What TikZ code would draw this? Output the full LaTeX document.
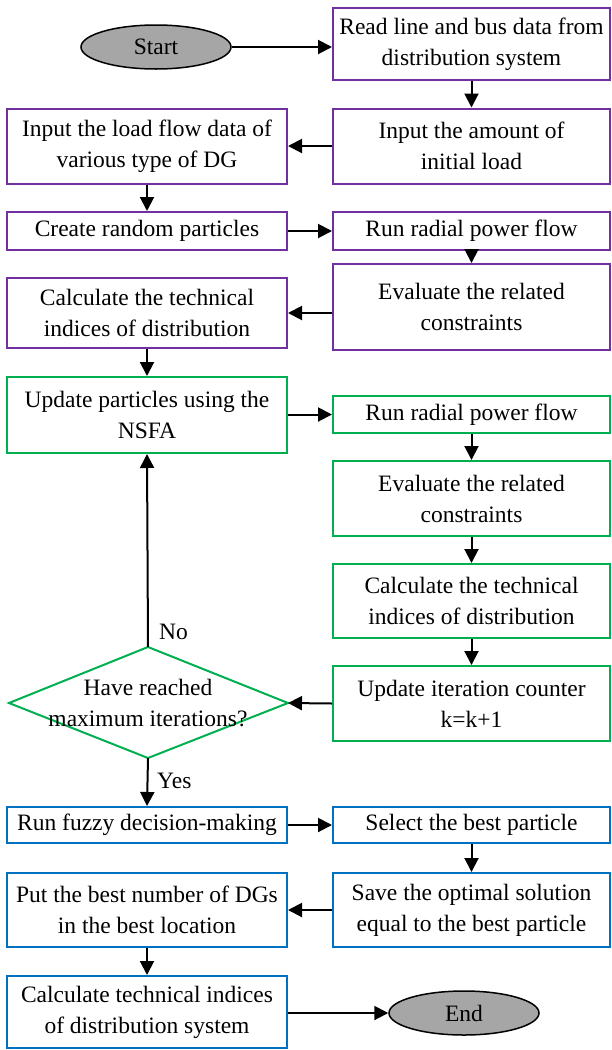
\documentclass[tikz,border=0pt]{standalone}
\usepackage{fontspec}
\setmainfont{Liberation Serif}
\usetikzlibrary{arrows.meta,shapes.geometric}
\definecolor{cpurple}{RGB}{112,48,160}
\definecolor{cgreen}{RGB}{0,176,80}
\definecolor{cblue}{RGB}{0,112,192}
\definecolor{cgray}{RGB}{166,166,166}
\tikzset{
  box/.style={draw, line width=2pt, rectangle, align=center, inner sep=0pt, font=\fontsize{23.5}{31}\selectfont},
  pbox/.style={box, draw=cpurple},
  gbox/.style={box, draw=cgreen},
  bbox/.style={box, draw=cblue},
  wideR/.style={minimum width=277pt},
  wideL/.style={minimum width=280pt},
  term/.style={draw=black, line width=1.5pt, ellipse, fill=cgray, minimum width=150pt, minimum height=44pt, inner sep=0pt, font=\fontsize{23.5}{28}\selectfont},
  decline/.style={draw=cgreen, line width=2pt, line join=miter},
  dectext/.style={align=center, inner sep=0pt, font=\fontsize{23.5}{31}\selectfont},
  arr/.style={line width=2pt, -{Triangle[length=14pt,width=14pt]}},
  lbl/.style={font=\fontsize{23.5}{28}\selectfont, inner sep=0pt}
}
\begin{document}
\begin{tikzpicture}[x=1pt,y=-1pt]
\useasboundingbox (0,0) rectangle (611,1050);
% purple
\node[term] (start) at (156,47) {Start};
\node[pbox, wideR, minimum height=72pt] (b1) at (471.5,44) {Read line and bus data from\\distribution system};
\node[pbox, wideR, minimum height=75pt] (b2) at (471.5,146) {Input the amount of\\initial load};
\node[pbox, wideL, minimum height=75pt] (b3) at (147,146) {Input the load flow data of\\various type of DG};
\node[pbox, wideL, minimum height=38pt] (b4) at (147,231) {Create random particles};
\node[pbox, wideR, minimum height=38pt] (b5) at (471.5,231) {Run radial power flow};
\node[pbox, wideR, minimum height=86pt] (b6) at (471.5,307) {Evaluate the related\\constraints};
\node[pbox, wideL, minimum height=70pt] (b7) at (147,313) {Calculate the technical\\indices of distribution};
% green
\node[gbox, wideL, minimum height=76pt] (b8) at (147,415) {Update particles using the\\NSFA};
\node[gbox, wideR, minimum height=37pt] (b9) at (471.5,414.5) {Run radial power flow};
\node[gbox, wideR, minimum height=75pt] (b10) at (471.5,498.5) {Evaluate the related\\constraints};
\node[gbox, wideR, minimum height=74pt] (b11) at (471.5,601) {Calculate the technical\\indices of distribution};
\node[gbox, wideR, minimum height=75pt] (b12) at (471.5,703.5) {Update iteration counter\\k=k+1};
\coordinate (dN) at (148,647);
\coordinate (dS) at (148,758);
\coordinate (dW) at (9,703);
\coordinate (dE) at (288,703);
\draw[decline] (dN) -- (dE) -- (dS) -- (dW) -- cycle;
\node[dectext] (d) at (148,703) {Have reached\\maximum iterations?};
% blue
\node[bbox, wideL, minimum height=36pt] (b13) at (147,825) {Run fuzzy decision-making};
\node[bbox, wideR, minimum height=36pt] (b14) at (471.5,825) {Select the best particle};
\node[bbox, wideR, minimum height=74pt] (b15) at (471.5,910) {Save the optimal solution\\equal to the best particle};
\node[bbox, wideL, minimum height=74pt] (b16) at (147,910) {Put the best number of DGs\\in the best location};
\node[bbox, wideL, minimum height=72pt] (b17) at (147,1012) {Calculate technical indices\\of distribution system};
\node[term] (end) at (464,1013) {End};
% arrows
\draw[arr] (start) -- (start -| b1.west);
\draw[arr] (b1) -- (b2);
\draw[arr] (b2) -- (b3);
\draw[arr] (b3) -- (b4);
\draw[arr] (b4) -- (b5);
\draw[arr] (b5) -- (b6);
\draw[arr] (b6.west |- b7.east) -- (b7.east);
\draw[arr] (b7) -- (b8);
\draw[arr] (b8.east |- b9.west) -- (b9.west);
\draw[arr] (b9) -- (b10);
\draw[arr] (b10) -- (b11);
\draw[arr] (b11) -- (b12);
\draw[arr] (b12.west) -- (dE);
\draw[arr] (dN) -- (b8.south);
\draw[arr] (dS) -- (b13.north);
\node[lbl, anchor=west] (no) at (159,632) {No};
\node[lbl, anchor=west] (yes) at (157,781) {Yes};
\draw[arr] (b13) -- (b14);
\draw[arr] (b14) -- (b15);
\draw[arr] (b15) -- (b16);
\draw[arr] (b16) -- (b17);
\draw[arr] (b17.east |- end) -- (end);
\end{tikzpicture}
\end{document}
